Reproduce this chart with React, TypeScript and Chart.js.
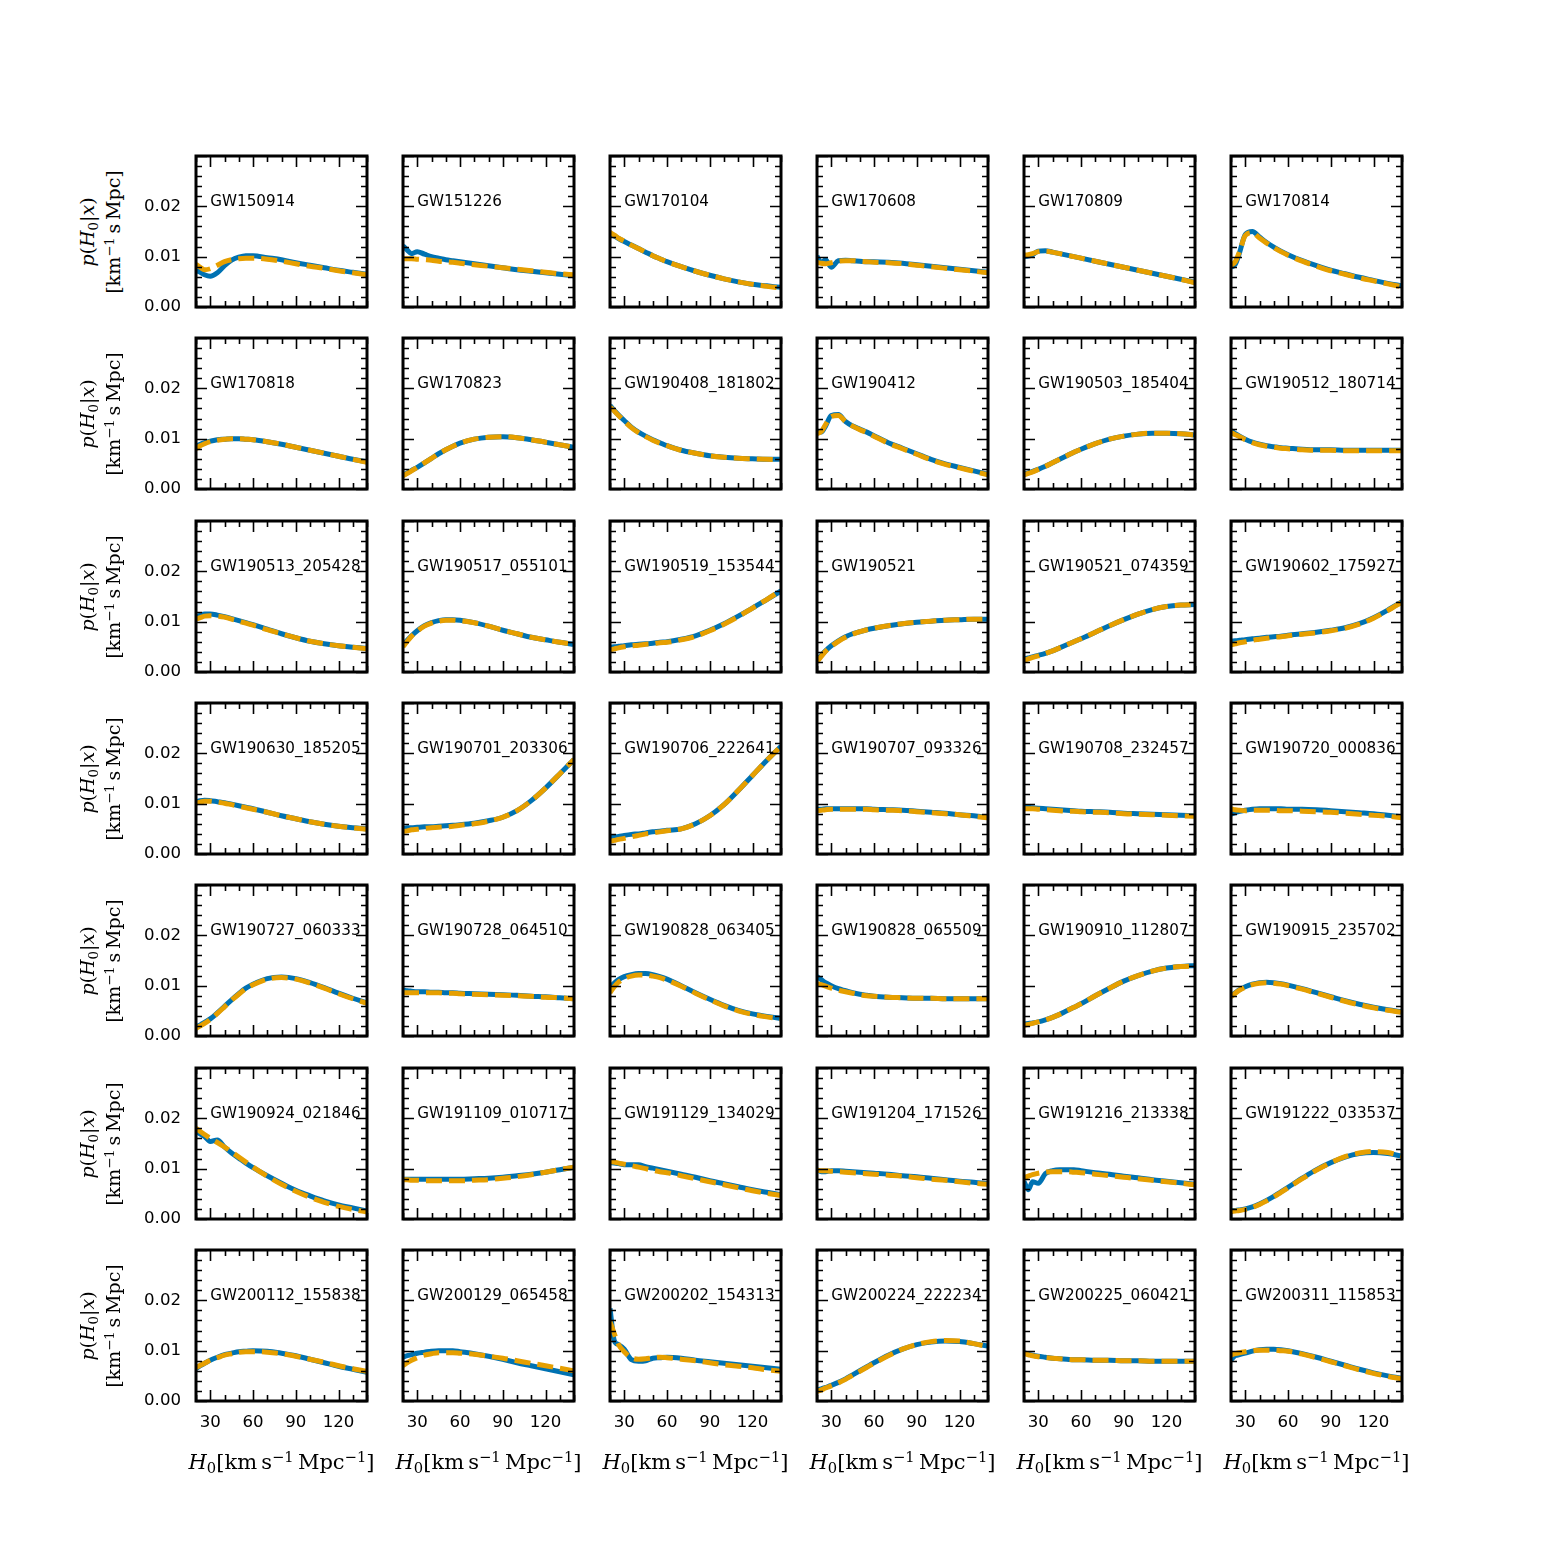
import React, { useEffect, useRef } from 'react';
import { Chart, registerables } from 'chart.js';

Chart.register(...registerables);

// H0 sample points (km s^-1 Mpc^-1)
const H0 = [20, 23, 26, 30, 35, 40, 45, 50, 55, 60, 70, 80, 90, 100, 110, 120, 130, 140];

// event names, row by row
const EVENTS = [
  'GW150914', 'GW151226', 'GW170104', 'GW170608', 'GW170809', 'GW170814',
  'GW170818', 'GW170823', 'GW190408_181802', 'GW190412', 'GW190503_185404', 'GW190512_180714',
  'GW190513_205428', 'GW190517_055101', 'GW190519_153544', 'GW190521', 'GW190521_074359', 'GW190602_175927',
  'GW190630_185205', 'GW190701_203306', 'GW190706_222641', 'GW190707_093326', 'GW190708_232457', 'GW190720_000836',
  'GW190727_060333', 'GW190728_064510', 'GW190828_063405', 'GW190828_065509', 'GW190910_112807', 'GW190915_235702',
  'GW190924_021846', 'GW191109_010717', 'GW191129_134029', 'GW191204_171526', 'GW191216_213338', 'GW191222_033537',
  'GW200112_155838', 'GW200129_065458', 'GW200202_154313', 'GW200224_222234', 'GW200225_060421', 'GW200311_115853',
];

// posterior values in units of 1e-3 (km^-1 s Mpc); B = solid blue, O = dashed orange
const B01 = [7.2, 6.9, 6.4, 6.1, 6.8, 8.2, 9.3, 9.9, 10.2, 10.2, 9.8, 9.4, 8.8, 8.3, 7.8, 7.3, 6.9, 6.5];
const O01 = [8.5, 7.9, 7.4, 7.6, 8.3, 9.0, 9.4, 9.6, 9.7, 9.7, 9.5, 9.1, 8.6, 8.1, 7.7, 7.2, 6.8, 6.4];
const B02 = [12.2, 11.3, 10.6, 11.0, 10.5, 10.0, 9.7, 9.4, 9.2, 9.0, 8.6, 8.2, 7.8, 7.4, 7.1, 6.8, 6.5, 6.2];
const O02 = [9.6, 9.6, 9.6, 9.5, 9.4, 9.3, 9.1, 9.0, 8.9, 8.7, 8.4, 8.1, 7.8, 7.5, 7.2, 6.9, 6.6, 6.4];
const B03 = [14.5, 14.1, 13.6, 13.0, 12.3, 11.6, 10.9, 10.2, 9.6, 9.0, 8.0, 7.1, 6.3, 5.6, 5.0, 4.5, 4.2, 3.9];
const O03 = [14.8, 14.3, 13.7, 13.1, 12.3, 11.6, 10.9, 10.2, 9.6, 9.0, 8.0, 7.1, 6.3, 5.6, 5.0, 4.5, 4.1, 3.8];
const B04 = [10.1, 8.8, 9.4, 7.9, 9.2, 9.3, 9.2, 9.1, 9.0, 9.0, 8.9, 8.7, 8.4, 8.1, 7.8, 7.5, 7.2, 6.9];
const O04 = [8.9, 8.7, 8.6, 8.8, 9.1, 9.2, 9.2, 9.1, 9.0, 8.9, 8.8, 8.6, 8.3, 8.0, 7.7, 7.4, 7.1, 6.8];
const B05 = [10.0, 10.1, 10.4, 11.1, 11.2, 10.9, 10.6, 10.3, 10.0, 9.7, 9.1, 8.5, 7.9, 7.3, 6.7, 6.1, 5.5, 4.9];
const O05 = [10.3, 10.4, 10.6, 11.0, 11.1, 10.9, 10.6, 10.3, 10.0, 9.7, 9.1, 8.5, 7.9, 7.3, 6.7, 6.1, 5.5, 4.8];
const B06 = [7.9, 8.5, 10.8, 14.4, 15.0, 13.9, 12.8, 11.9, 11.1, 10.4, 9.2, 8.2, 7.3, 6.6, 5.9, 5.3, 4.7, 4.2];
const O06 = [8.3, 9.0, 11.0, 14.2, 14.8, 13.7, 12.7, 11.8, 11.0, 10.3, 9.1, 8.1, 7.2, 6.5, 5.8, 5.2, 4.6, 4.0];
const B07 = [8.5, 8.9, 9.2, 9.5, 9.8, 9.9, 10.0, 10.0, 9.9, 9.8, 9.4, 8.9, 8.3, 7.7, 7.1, 6.5, 5.9, 5.4];
const O07 = [8.0, 8.6, 9.0, 9.4, 9.7, 9.9, 10.0, 10.0, 9.9, 9.8, 9.4, 8.9, 8.3, 7.7, 7.1, 6.5, 5.9, 5.3];
const B08 = [2.8, 3.2, 3.7, 4.3, 5.2, 6.1, 7.0, 7.8, 8.5, 9.1, 9.9, 10.3, 10.4, 10.2, 9.8, 9.3, 8.8, 8.3];
const O08 = [2.6, 3.1, 3.6, 4.3, 5.2, 6.1, 7.0, 7.8, 8.5, 9.1, 9.9, 10.3, 10.4, 10.2, 9.8, 9.3, 8.8, 8.3];
const B09 = [16.6, 15.6, 14.7, 13.6, 12.3, 11.3, 10.5, 9.8, 9.2, 8.6, 7.7, 7.1, 6.6, 6.3, 6.1, 6.0, 5.9, 5.9];
const O09 = [16.3, 15.5, 14.6, 13.5, 12.2, 11.2, 10.4, 9.7, 9.1, 8.6, 7.7, 7.1, 6.6, 6.3, 6.1, 6.0, 5.9, 5.8];
const B10 = [11.4, 11.3, 12.5, 14.6, 14.8, 13.4, 12.5, 11.9, 11.3, 10.6, 9.2, 8.1, 7.0, 5.9, 5.0, 4.3, 3.6, 2.9];
const O10 = [11.0, 11.4, 12.8, 14.4, 14.6, 13.4, 12.5, 11.8, 11.2, 10.5, 9.1, 8.0, 6.9, 5.8, 4.9, 4.2, 3.5, 2.8];
const B11 = [3.0, 3.2, 3.5, 3.9, 4.5, 5.2, 5.9, 6.6, 7.3, 7.9, 9.0, 9.9, 10.5, 10.9, 11.1, 11.1, 11.0, 10.7];
const O11 = [2.8, 3.1, 3.4, 3.9, 4.5, 5.2, 5.9, 6.6, 7.3, 7.9, 9.0, 9.9, 10.5, 10.9, 11.1, 11.1, 11.0, 10.7];
const B12 = [11.6, 11.0, 10.5, 9.9, 9.3, 8.9, 8.6, 8.4, 8.2, 8.1, 7.9, 7.8, 7.8, 7.7, 7.7, 7.7, 7.7, 7.7];
const O12 = [11.2, 10.8, 10.4, 9.8, 9.2, 8.8, 8.5, 8.3, 8.1, 8.0, 7.8, 7.7, 7.7, 7.6, 7.6, 7.6, 7.6, 7.6];
const B13 = [11.0, 11.3, 11.5, 11.5, 11.3, 11.0, 10.6, 10.2, 9.8, 9.4, 8.5, 7.6, 6.8, 6.1, 5.6, 5.2, 4.9, 4.7];
const O13 = [10.5, 10.8, 11.1, 11.2, 11.1, 10.9, 10.5, 10.1, 9.7, 9.3, 8.4, 7.6, 6.8, 6.1, 5.6, 5.2, 4.9, 4.6];
const B14 = [5.3, 6.3, 7.2, 8.2, 9.2, 9.8, 10.2, 10.4, 10.4, 10.3, 9.8, 9.1, 8.3, 7.6, 6.9, 6.4, 5.9, 5.5];
const O14 = [5.0, 6.1, 7.1, 8.1, 9.1, 9.7, 10.1, 10.3, 10.3, 10.2, 9.8, 9.1, 8.3, 7.6, 6.9, 6.4, 5.9, 5.5];
const B15 = [4.9, 5.0, 5.1, 5.2, 5.4, 5.5, 5.6, 5.7, 5.9, 6.0, 6.5, 7.2, 8.3, 9.6, 11.1, 12.7, 14.4, 16.1];
const O15 = [4.4, 4.6, 4.8, 5.0, 5.2, 5.3, 5.5, 5.6, 5.8, 5.9, 6.4, 7.1, 8.2, 9.5, 11.0, 12.7, 14.4, 16.2];
const B16 = [2.3, 3.3, 4.2, 5.2, 6.2, 7.0, 7.6, 8.0, 8.4, 8.7, 9.2, 9.6, 9.9, 10.1, 10.3, 10.4, 10.5, 10.5];
const O16 = [2.0, 3.1, 4.1, 5.1, 6.1, 6.9, 7.5, 8.0, 8.4, 8.7, 9.2, 9.6, 9.9, 10.1, 10.3, 10.4, 10.5, 10.5];
const B17 = [2.6, 2.8, 3.0, 3.3, 3.7, 4.2, 4.8, 5.4, 6.0, 6.6, 7.9, 9.2, 10.4, 11.5, 12.4, 13.0, 13.3, 13.4];
const O17 = [2.3, 2.6, 2.9, 3.2, 3.7, 4.2, 4.8, 5.4, 6.0, 6.6, 7.9, 9.2, 10.4, 11.5, 12.4, 13.0, 13.3, 13.4];
const B18 = [6.1, 6.2, 6.3, 6.4, 6.6, 6.7, 6.9, 7.0, 7.1, 7.3, 7.6, 7.9, 8.3, 8.8, 9.6, 10.8, 12.3, 14.0];
const O18 = [5.4, 5.6, 5.8, 6.0, 6.3, 6.5, 6.7, 6.9, 7.0, 7.2, 7.5, 7.8, 8.2, 8.7, 9.5, 10.7, 12.2, 13.9];
const B19 = [10.4, 10.6, 10.7, 10.6, 10.4, 10.2, 9.9, 9.6, 9.3, 9.0, 8.3, 7.6, 7.0, 6.4, 5.9, 5.5, 5.2, 5.0];
const O19 = [10.1, 10.3, 10.5, 10.5, 10.3, 10.1, 9.8, 9.5, 9.2, 8.9, 8.3, 7.6, 7.0, 6.4, 5.9, 5.5, 5.2, 4.9];
const B20 = [5.1, 5.2, 5.2, 5.3, 5.4, 5.4, 5.5, 5.6, 5.7, 5.8, 6.1, 6.6, 7.3, 8.6, 10.6, 13.1, 15.9, 18.8];
const O20 = [4.5, 4.6, 4.8, 4.9, 5.1, 5.2, 5.3, 5.4, 5.5, 5.7, 6.0, 6.5, 7.3, 8.6, 10.6, 13.1, 15.9, 18.8];
const B21 = [3.3, 3.4, 3.5, 3.7, 3.9, 4.0, 4.2, 4.4, 4.5, 4.7, 5.0, 6.0, 7.6, 9.8, 12.6, 15.6, 18.6, 21.4];
const O21 = [2.5, 2.7, 2.9, 3.1, 3.4, 3.7, 4.0, 4.2, 4.4, 4.6, 5.0, 6.0, 7.6, 9.8, 12.6, 15.6, 18.6, 21.4];
const B22 = [8.9, 8.9, 9.0, 9.0, 9.0, 9.0, 9.0, 9.0, 9.0, 8.9, 8.8, 8.7, 8.5, 8.3, 8.1, 7.8, 7.6, 7.3];
const O22 = [8.6, 8.7, 8.8, 8.9, 8.9, 8.9, 8.9, 8.9, 8.9, 8.8, 8.7, 8.6, 8.4, 8.2, 8.0, 7.8, 7.5, 7.2];
const B23 = [9.4, 9.3, 9.2, 9.1, 9.0, 8.9, 8.8, 8.7, 8.6, 8.5, 8.4, 8.3, 8.1, 8.0, 7.9, 7.8, 7.7, 7.6];
const O23 = [9.0, 9.0, 9.0, 8.9, 8.8, 8.7, 8.6, 8.5, 8.5, 8.4, 8.3, 8.2, 8.0, 7.9, 7.8, 7.7, 7.6, 7.5];
const B24 = [7.9, 8.2, 8.5, 8.7, 8.9, 9.0, 9.0, 9.0, 9.0, 8.9, 8.9, 8.8, 8.6, 8.4, 8.2, 8.0, 7.7, 7.4];
const O24 = [9.0, 8.8, 8.7, 8.6, 8.7, 8.7, 8.7, 8.7, 8.6, 8.6, 8.5, 8.4, 8.3, 8.1, 7.9, 7.7, 7.5, 7.2];
const B25 = [1.8, 2.2, 2.7, 3.4, 4.6, 5.9, 7.2, 8.4, 9.5, 10.3, 11.4, 11.7, 11.4, 10.6, 9.6, 8.5, 7.5, 6.6];
const O25 = [1.5, 2.0, 2.5, 3.3, 4.5, 5.8, 7.1, 8.3, 9.4, 10.2, 11.3, 11.6, 11.3, 10.5, 9.5, 8.4, 7.4, 6.5];
const B26 = [9.2, 9.0, 8.9, 8.8, 8.8, 8.7, 8.7, 8.6, 8.6, 8.5, 8.4, 8.3, 8.2, 8.1, 7.9, 7.8, 7.6, 7.4];
const O26 = [8.6, 8.6, 8.6, 8.6, 8.6, 8.6, 8.6, 8.5, 8.5, 8.4, 8.3, 8.2, 8.1, 8.0, 7.9, 7.7, 7.6, 7.4];
const B27 = [9.7, 10.5, 11.2, 11.8, 12.2, 12.4, 12.4, 12.2, 11.8, 11.3, 10.0, 8.6, 7.3, 6.1, 5.1, 4.4, 3.9, 3.5];
const O27 = [8.6, 9.8, 10.7, 11.4, 11.9, 12.1, 12.1, 11.9, 11.6, 11.1, 9.9, 8.5, 7.2, 6.0, 5.0, 4.3, 3.8, 3.4];
const B28 = [11.8, 11.2, 10.6, 10.0, 9.4, 9.0, 8.6, 8.3, 8.1, 7.9, 7.7, 7.6, 7.5, 7.5, 7.4, 7.4, 7.4, 7.4];
const O28 = [10.4, 10.2, 9.9, 9.5, 9.1, 8.8, 8.5, 8.2, 8.0, 7.9, 7.7, 7.6, 7.5, 7.5, 7.4, 7.4, 7.4, 7.4];
const B29 = [2.4, 2.5, 2.6, 2.8, 3.2, 3.7, 4.3, 5.0, 5.7, 6.4, 8.0, 9.5, 10.9, 12.0, 12.9, 13.5, 13.8, 14.0];
const O29 = [2.1, 2.3, 2.5, 2.8, 3.2, 3.7, 4.3, 5.0, 5.7, 6.4, 8.0, 9.5, 10.9, 12.0, 12.9, 13.5, 13.8, 13.9];
const B30 = [8.0, 8.6, 9.2, 9.8, 10.3, 10.6, 10.7, 10.6, 10.4, 10.1, 9.4, 8.6, 7.8, 7.0, 6.3, 5.7, 5.2, 4.8];
const O30 = [7.8, 8.5, 9.1, 9.7, 10.2, 10.5, 10.6, 10.5, 10.3, 10.0, 9.3, 8.5, 7.7, 6.9, 6.2, 5.6, 5.1, 4.7];
const B31 = [17.3, 16.9, 16.4, 15.4, 15.7, 14.3, 13.1, 12.1, 11.1, 10.2, 8.6, 7.1, 5.7, 4.6, 3.6, 2.8, 2.2, 1.6];
const O31 = [18.0, 17.4, 16.8, 16.0, 15.2, 14.3, 13.3, 12.3, 11.3, 10.3, 8.5, 6.9, 5.5, 4.3, 3.3, 2.5, 1.9, 1.4];
const B32 = [7.9, 7.9, 7.9, 7.9, 7.9, 7.9, 7.9, 7.9, 7.9, 7.9, 8.0, 8.1, 8.3, 8.6, 8.9, 9.3, 9.8, 10.3];
const O32 = [7.8, 7.8, 7.7, 7.7, 7.6, 7.6, 7.6, 7.6, 7.6, 7.6, 7.7, 7.8, 8.1, 8.4, 8.8, 9.3, 9.8, 10.3];
const B33 = [11.2, 11.1, 11.0, 10.8, 10.8, 10.8, 10.4, 10.1, 9.8, 9.5, 8.9, 8.3, 7.6, 7.0, 6.4, 5.8, 5.3, 4.8];
const O33 = [11.4, 11.3, 11.1, 10.9, 10.6, 10.3, 10.0, 9.7, 9.4, 9.2, 8.6, 8.0, 7.4, 6.8, 6.2, 5.6, 5.1, 4.7];
const B34 = [9.8, 9.4, 9.4, 9.6, 9.6, 9.5, 9.4, 9.3, 9.2, 9.1, 8.9, 8.6, 8.4, 8.1, 7.8, 7.5, 7.3, 7.0];
const O34 = [9.7, 9.6, 9.6, 9.5, 9.4, 9.3, 9.2, 9.1, 9.0, 8.9, 8.7, 8.5, 8.2, 7.9, 7.7, 7.4, 7.1, 6.9];
const B35 = [7.5, 5.8, 7.4, 7.1, 9.0, 9.6, 9.8, 9.8, 9.8, 9.6, 9.2, 8.9, 8.5, 8.2, 7.8, 7.5, 7.2, 6.9];
const O35 = [8.2, 8.5, 8.8, 9.1, 9.3, 9.4, 9.4, 9.4, 9.3, 9.2, 8.9, 8.6, 8.3, 8.0, 7.7, 7.4, 7.1, 6.8];
const B36 = [1.7, 1.7, 1.8, 2.0, 2.4, 3.0, 3.7, 4.5, 5.4, 6.3, 8.1, 9.8, 11.2, 12.3, 13.0, 13.2, 13.0, 12.5];
const O36 = [1.5, 1.6, 1.7, 1.9, 2.3, 2.9, 3.6, 4.4, 5.3, 6.2, 8.0, 9.7, 11.2, 12.4, 13.1, 13.4, 13.2, 12.5];
const B37 = [6.4, 7.0, 7.5, 8.1, 8.7, 9.2, 9.5, 9.8, 9.9, 10.0, 9.9, 9.5, 9.0, 8.3, 7.6, 6.9, 6.3, 5.7];
const O37 = [6.6, 7.1, 7.5, 8.1, 8.6, 9.1, 9.4, 9.7, 9.8, 9.8, 9.7, 9.4, 8.9, 8.3, 7.7, 7.0, 6.4, 5.9];
const B38 = [8.7, 9.0, 9.2, 9.5, 9.7, 9.9, 10.0, 10.0, 10.0, 9.8, 9.4, 8.9, 8.3, 7.6, 7.0, 6.4, 5.8, 5.2];
const O38 = [7.0, 7.6, 8.1, 8.6, 9.1, 9.4, 9.6, 9.6, 9.6, 9.5, 9.3, 8.9, 8.5, 8.0, 7.5, 7.0, 6.5, 6.0];
const B39 = [18.4, 12.0, 11.2, 10.3, 8.2, 7.9, 8.0, 8.5, 8.6, 8.7, 8.5, 8.1, 7.8, 7.5, 7.2, 6.9, 6.6, 6.3];
const O39 = [15.8, 13.4, 11.2, 9.8, 8.6, 8.3, 8.4, 8.6, 8.7, 8.6, 8.3, 8.0, 7.6, 7.2, 6.9, 6.6, 6.2, 5.9];
const B40 = [2.2, 2.4, 2.7, 3.1, 3.7, 4.4, 5.2, 6.0, 6.8, 7.6, 9.1, 10.3, 11.2, 11.7, 11.9, 11.8, 11.4, 10.9];
const O40 = [1.9, 2.2, 2.6, 3.0, 3.6, 4.3, 5.1, 5.9, 6.7, 7.5, 9.0, 10.3, 11.2, 11.8, 12.0, 11.9, 11.4, 10.8];
const B41 = [9.6, 9.3, 9.1, 8.9, 8.7, 8.5, 8.4, 8.3, 8.2, 8.2, 8.1, 8.1, 8.0, 8.0, 7.9, 7.9, 7.9, 7.9];
const O41 = [9.4, 9.2, 9.0, 8.8, 8.6, 8.5, 8.4, 8.3, 8.2, 8.2, 8.1, 8.1, 8.0, 8.0, 7.9, 7.9, 7.9, 7.9];
const B42 = [8.2, 9.0, 9.2, 9.5, 9.9, 10.2, 10.3, 10.3, 10.2, 10.0, 9.4, 8.7, 7.9, 7.1, 6.3, 5.6, 5.0, 4.5];
const O42 = [9.1, 9.4, 9.6, 9.8, 10.0, 10.1, 10.1, 10.1, 10.0, 9.9, 9.3, 8.6, 7.8, 7.0, 6.2, 5.5, 4.9, 4.4];

const BLUE_SERIES = [B01, B02, B03, B04, B05, B06, B07, B08, B09, B10, B11, B12, B13, B14, B15, B16, B17, B18, B19, B20, B21,
  B22, B23, B24, B25, B26, B27, B28, B29, B30, B31, B32, B33, B34, B35, B36, B37, B38, B39, B40, B41, B42];
const ORANGE_SERIES = [O01, O02, O03, O04, O05, O06, O07, O08, O09, O10, O11, O12, O13, O14, O15, O16, O17, O18, O19, O20, O21,
  O22, O23, O24, O25, O26, O27, O28, O29, O30, O31, O32, O33, O34, O35, O36, O37, O38, O39, O40, O41, O42];

const X_TICK_LABELS = [30, 60, 90, 120];
const Y_TICK_LABELS = [0, 0.01, 0.02];
const Y_MAJOR = [0, 0.01, 0.02, 0.03];

const BLUE = '#0072B2';
const ORANGE = '#E69F00';

// layout (pixels)
const COL_LEFT = [196, 403, 610, 817, 1024, 1231];
const ROW_TOP = [156, 338, 521, 703, 885, 1068, 1250];
const PW = 171;
const PH = 151;
const PAD_L = 70;
const PAD_R = 14;
const PAD_T = 34;
const PAD_B = 44;

const near = (a: number, b: number) => Math.abs(a - b) < 1e-9;

const frameTicks = {
  id: 'frameTicks',
  afterDatasetsDraw(chart: any, _args: any, opts: any) {
    const { ctx, chartArea: a, scales } = chart;
    const xs = scales.x;
    const ys = scales.y;
    ctx.save();
    // event label
    ctx.fillStyle = '#000';
    ctx.font = '15.2px "DejaVu Sans"';
    ctx.textAlign = 'left';
    ctx.textBaseline = 'alphabetic';
    ctx.fillText(opts.label, xs.getPixelForValue(30), ys.getPixelForValue(0.02));
    // ticks (inward on all four sides)
    ctx.strokeStyle = '#000';
    ctx.lineWidth = 1.6;
    ctx.beginPath();
    xs.ticks.forEach((t: any) => {
      const px = Math.round(xs.getPixelForValue(t.value)) + 0.5;
      const len = X_TICK_LABELS.includes(t.value) ? 11 : 6;
      ctx.moveTo(px, a.bottom);
      ctx.lineTo(px, a.bottom - len);
      ctx.moveTo(px, a.top);
      ctx.lineTo(px, a.top + len);
    });
    ys.ticks.forEach((t: any) => {
      const py = Math.round(ys.getPixelForValue(t.value)) + 0.5;
      const len = Y_MAJOR.some((m) => near(m, t.value)) ? 11 : 6;
      ctx.moveTo(a.left, py);
      ctx.lineTo(a.left + len, py);
      ctx.moveTo(a.right, py);
      ctx.lineTo(a.right - len, py);
    });
    ctx.stroke();
    // frame
    ctx.lineWidth = 3;
    ctx.strokeRect(a.left, a.top, a.right - a.left, a.bottom - a.top);
    ctx.restore();
  },
};

function buildChart(canvas: HTMLCanvasElement, idx: number, col: number, row: number) {
  const tickFont = { family: '"DejaVu Sans"', size: 16.6 };
  return new Chart(canvas, {
    type: 'line',
    data: {
      datasets: [
        {
          data: H0.map((x, i) => ({ x, y: BLUE_SERIES[idx][i] / 1000 })),
          borderColor: BLUE,
          borderWidth: 5,
          pointRadius: 0,
          cubicInterpolationMode: 'monotone',
          borderJoinStyle: 'round',
          clip: 0,
          order: 1,
        },
        {
          data: H0.map((x, i) => ({ x, y: ORANGE_SERIES[idx][i] / 1000 })),
          borderColor: ORANGE,
          borderWidth: 5,
          borderDash: [16, 7],
          pointRadius: 0,
          cubicInterpolationMode: 'monotone',
          clip: 0,
          order: 0,
        },
      ],
    },
    options: {
      animation: false,
      responsive: false,
      maintainAspectRatio: false,
      devicePixelRatio: 1,
      events: [],
      layout: { padding: { left: 0, right: PAD_R, top: PAD_T, bottom: 0 }, autoPadding: false },
      plugins: {
        legend: { display: false },
        tooltip: { enabled: false },
        frameTicks: { label: EVENTS[idx] },
      } as any,
      scales: {
        x: {
          type: 'linear',
          min: 20,
          max: 140,
          grid: { display: false, drawTicks: false },
          border: { display: false },
          ticks: {
            stepSize: 10,
            autoSkip: false,
            maxRotation: 0,
            minRotation: 0,
            display: row === 6,
            padding: 12,
            color: '#000',
            font: tickFont,
            callback: (v: any) => (X_TICK_LABELS.includes(Number(v)) ? String(v) : ''),
          },
          afterFit: (s: any) => {
            s.height = PAD_B;
          },
        },
        y: {
          type: 'linear',
          min: 0,
          max: 0.03,
          grid: { display: false, drawTicks: false },
          border: { display: false },
          ticks: {
            stepSize: 0.002,
            autoSkip: false,
            display: col === 0,
            padding: 15,
            color: '#000',
            font: tickFont,
            callback: (v: any) => (Y_TICK_LABELS.some((m) => near(m, Number(v))) ? Number(v).toFixed(2) : ''),
          },
          afterFit: (s: any) => {
            s.width = PAD_L;
          },
        },
      },
    } as any,
    plugins: [frameTicks],
  });
}

function Panel({ idx }: { idx: number }) {
  const ref = useRef<HTMLCanvasElement>(null);
  const col = idx % 6;
  const row = Math.floor(idx / 6);
  useEffect(() => {
    const canvas = ref.current!;
    let chart = buildChart(canvas, idx, col, row);
    const a = chart.chartArea;
    const dw = Math.round(PW - (a.right - a.left));
    const dh = Math.round(PH - (a.bottom - a.top));
    if (dw !== 0 || dh !== 0) {
      // enlarge the canvas so that the plot area gets the wanted size
      chart.destroy();
      canvas.width = PW + PAD_L + PAD_R + dw;
      canvas.height = PH + PAD_T + PAD_B + dh;
      chart = buildChart(canvas, idx, col, row);
    }
    const b = chart.chartArea;
    canvas.style.left = `${COL_LEFT[col] - b.left}px`;
    canvas.style.top = `${ROW_TOP[row] - b.top}px`;
    return () => chart.destroy();
  }, [idx]);
  return (
    <canvas
      ref={ref}
      width={PW + PAD_L + PAD_R}
      height={PH + PAD_T + PAD_B}
      style={{ position: 'absolute', left: COL_LEFT[col] - PAD_L, top: ROW_TOP[row] - PAD_T }}
    />
  );
}

const serif = '"DejaVu Serif", "Liberation Serif", serif';
const subStyle = { fontSize: '0.7em', position: 'relative' as const, top: '0.3em', lineHeight: 0 };
const supStyle = { fontSize: '0.7em', position: 'relative' as const, top: '-0.45em', lineHeight: 0 };

function YLabel({ row }: { row: number }) {
  return (
    <div
      style={{
        position: 'absolute',
        left: 100,
        top: ROW_TOP[row] + PH / 2,
        transform: 'translate(-50%, -50%) rotate(-90deg)',
        whiteSpace: 'nowrap',
        textAlign: 'center',
        fontFamily: serif,
        fontSize: 19,
        lineHeight: '26px',
        color: '#000',
      }}
    >
      <div>
        <i>p</i>(<i>H</i>
        <span style={subStyle}>0</span>|<i>x</i>)
      </div>
      <div>
        [km<span style={supStyle}>−1</span>&#8201;s&#8201;Mpc]
      </div>
    </div>
  );
}

function XLabel({ col }: { col: number }) {
  return (
    <div
      style={{
        position: 'absolute',
        left: COL_LEFT[col] + PW / 2,
        top: 1462,
        transform: 'translate(-50%, -50%)',
        whiteSpace: 'nowrap',
        fontFamily: serif,
        fontSize: 21,
        lineHeight: '26px',
        color: '#000',
      }}
    >
      <i>H</i>
      <span style={subStyle}>0</span>[km&#8201;s<span style={supStyle}>−1</span>&#8201;Mpc
      <span style={supStyle}>−1</span>]
    </div>
  );
}

export default function App() {
  return (
    <div style={{ position: 'absolute', left: 0, top: 0, width: 1559, height: 1559, background: '#fff', overflow: 'hidden' }}>
      {EVENTS.map((_, i) => (
        <Panel key={i} idx={i} />
      ))}
      {ROW_TOP.map((_, r) => (
        <YLabel key={'y' + r} row={r} />
      ))}
      {COL_LEFT.map((_, c) => (
        <XLabel key={'x' + c} col={c} />
      ))}
    </div>
  );
}
